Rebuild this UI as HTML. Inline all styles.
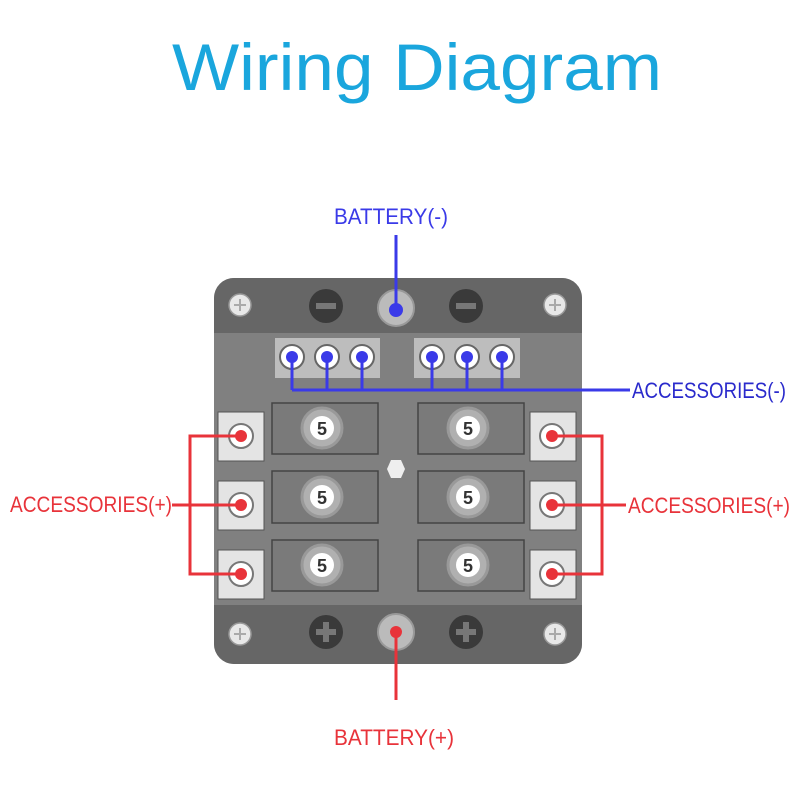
<!DOCTYPE html>
<html><head><style>body{margin:0;background:#fff}svg{display:block}</style></head><body>
<svg width="800" height="800" viewBox="0 0 800 800" xmlns="http://www.w3.org/2000/svg" font-family="Liberation Sans, sans-serif">
<rect width="800" height="800" fill="#fff"/>
<text x="172" y="90" font-size="66" fill="#1aa6dd" textLength="490" lengthAdjust="spacingAndGlyphs">Wiring Diagram</text>

<!-- panel -->
<rect x="214" y="278" width="368" height="386" rx="20" fill="#7e7e7e"/>
<path d="M214 333 V298 a20 20 0 0 1 20 -20 H562 a20 20 0 0 1 20 20 V333 Z" fill="#666"/>
<path d="M214 605 V644 a20 20 0 0 0 20 20 H562 a20 20 0 0 0 20 -20 V605 Z" fill="#666"/>
<rect x="214" y="333" width="368" height="272" fill="#808080"/>

<!-- top screws -->
<g fill="#e8e8e8" stroke="#999" stroke-width="1.5">
<circle cx="240" cy="305" r="11"/><circle cx="555" cy="305" r="11"/>
<circle cx="240" cy="634" r="11"/><circle cx="555" cy="634" r="11"/>
</g>
<g stroke="#aaa" stroke-width="2">
<path d="M234 305h12M240 299v12M549 305h12M555 299v12M234 634h12M240 628v12M549 634h12M555 628v12"/>
</g>
<circle cx="326" cy="306" r="17" fill="#3a3a3a"/><rect x="316" y="303" width="20" height="6" fill="#777"/>
<circle cx="466" cy="306" r="17" fill="#3a3a3a"/><rect x="456" y="303" width="20" height="6" fill="#777"/>
<circle cx="326" cy="632" r="17" fill="#3a3a3a"/><path d="M316 632h20M326 622v20" stroke="#777" stroke-width="6"/>
<circle cx="466" cy="632" r="17" fill="#3a3a3a"/><path d="M456 632h20M466 622v20" stroke="#777" stroke-width="6"/>
<circle cx="396" cy="308" r="18" fill="#bbb" stroke="#999" stroke-width="2"/>
<circle cx="396" cy="632" r="18" fill="#bbb" stroke="#999" stroke-width="2"/>

<!-- neg terminal strips -->
<rect x="275" y="338" width="105" height="40" fill="#bdbdbd"/>
<rect x="414" y="338" width="106" height="40" fill="#bdbdbd"/>
<g fill="#fff" stroke="#666" stroke-width="2">
<circle cx="292" cy="357" r="12"/><circle cx="327" cy="357" r="12"/><circle cx="362" cy="357" r="12"/>
<circle cx="432" cy="357" r="12"/><circle cx="467" cy="357" r="12"/><circle cx="502" cy="357" r="12"/>
</g>

<!-- fuses -->
<g id="fuses">
<g fill="#7a7a7a" stroke="#444" stroke-width="1.5">
<rect x="272" y="403" width="106" height="51"/><rect x="418" y="403" width="106" height="51"/>
<rect x="272" y="471" width="106" height="52"/><rect x="418" y="471" width="106" height="52"/>
<rect x="272" y="540" width="106" height="51"/><rect x="418" y="540" width="106" height="51"/>
</g>
</g>
<g fill="#b0b0b0" stroke="#999" stroke-width="3">
<circle cx="322" cy="428" r="20"/><circle cx="468" cy="428" r="20"/>
<circle cx="322" cy="497" r="20"/><circle cx="468" cy="497" r="20"/>
<circle cx="322" cy="565" r="20"/><circle cx="468" cy="565" r="20"/>
</g>
<g fill="#fff"><circle cx="322" cy="428" r="12"/><circle cx="468" cy="428" r="12"/>
<circle cx="322" cy="497" r="12"/><circle cx="468" cy="497" r="12"/>
<circle cx="322" cy="565" r="12"/><circle cx="468" cy="565" r="12"/></g>
<g font-size="18" font-weight="bold" fill="#333" text-anchor="middle">
<text x="322" y="435">5</text><text x="468" y="435">5</text>
<text x="322" y="504">5</text><text x="468" y="504">5</text>
<text x="322" y="572">5</text><text x="468" y="572">5</text>
</g>
<polygon points="387,469 391,460 401,460 405,469 401,478 391,478" fill="#eee"/>

<!-- side terminals -->
<g fill="#e4e4e4" stroke="#555" stroke-width="1">
<rect x="218" y="412" width="46" height="49"/><rect x="218" y="481" width="46" height="49"/><rect x="218" y="550" width="46" height="49"/>
<rect x="530" y="412" width="46" height="49"/><rect x="530" y="481" width="46" height="49"/><rect x="530" y="550" width="46" height="49"/>
</g>
<g fill="#fff" stroke="#777" stroke-width="2">
<circle cx="241" cy="436" r="12"/><circle cx="241" cy="505" r="12"/><circle cx="241" cy="574" r="12"/>
<circle cx="552" cy="436" r="12"/><circle cx="552" cy="505" r="12"/><circle cx="552" cy="574" r="12"/>
</g>

<!-- blue wiring -->
<g stroke="#3a3ae8" stroke-width="3" fill="none">
<path d="M396 235 V310"/>
<path d="M292 357 V390 M327 357 V390 M362 357 V390 M432 357 V390 M467 357 V390 M502 357 V390 M292 390 H630"/>
</g>
<g fill="#3a3ae8">
<circle cx="396" cy="310" r="7"/>
<circle cx="292" cy="357" r="6"/><circle cx="327" cy="357" r="6"/><circle cx="362" cy="357" r="6"/>
<circle cx="432" cy="357" r="6"/><circle cx="467" cy="357" r="6"/><circle cx="502" cy="357" r="6"/>
</g>
<!-- red wiring -->
<g stroke="#e8333a" stroke-width="3" fill="none">
<path d="M396 632 V700"/>
<path d="M241 436 H190 V574 H241 M172 505 H241"/>
<path d="M552 436 H602 V574 H552 M552 505 H626"/>
</g>
<g fill="#e8333a">
<circle cx="396" cy="632" r="6"/>
<circle cx="241" cy="436" r="6"/><circle cx="241" cy="505" r="6"/><circle cx="241" cy="574" r="6"/>
<circle cx="552" cy="436" r="6"/><circle cx="552" cy="505" r="6"/><circle cx="552" cy="574" r="6"/>
</g>

<g font-size="22">
<text x="334" y="224" fill="#3a3ae8" textLength="114" lengthAdjust="spacingAndGlyphs">BATTERY(-)</text>
<text x="632" y="398" fill="#2a2acc" textLength="154" lengthAdjust="spacingAndGlyphs">ACCESSORIES(-)</text>
<text x="10" y="512" fill="#e8333a" textLength="162" lengthAdjust="spacingAndGlyphs">ACCESSORIES(+)</text>
<text x="628" y="513" fill="#e8333a" textLength="162" lengthAdjust="spacingAndGlyphs">ACCESSORIES(+)</text>
<text x="334" y="745" fill="#e8333a" textLength="120" lengthAdjust="spacingAndGlyphs">BATTERY(+)</text>
</g>
</svg>
</body></html>
